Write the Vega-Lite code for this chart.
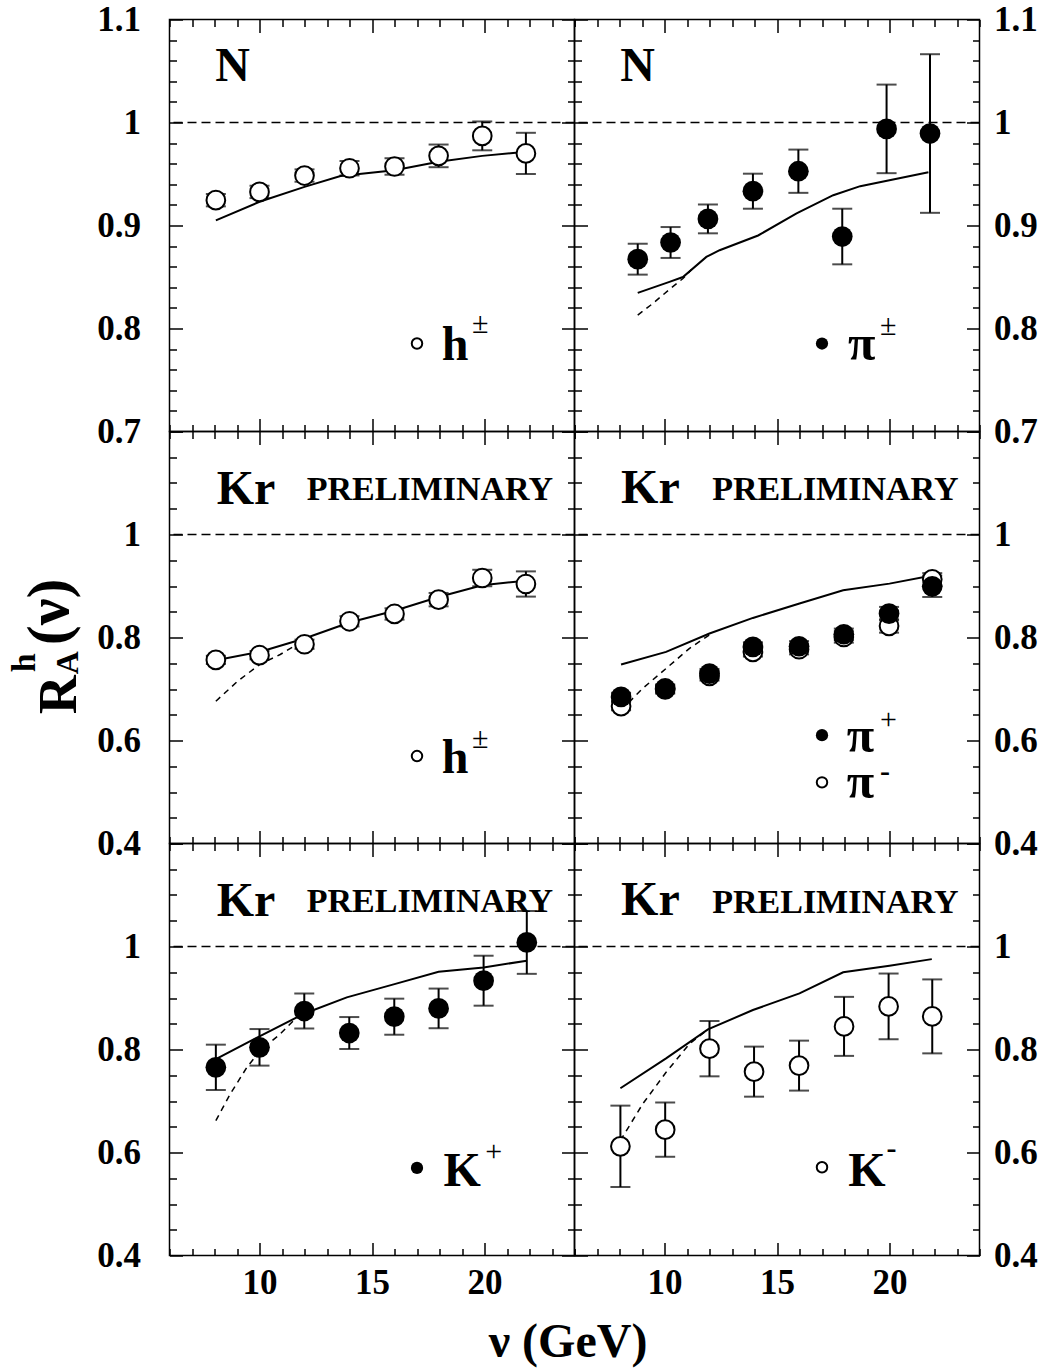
{
"$schema": "https://vega.github.io/schema/vega-lite/v6.json",
"background": "white",
"padding": {"left": 6.5, "top": 1.5, "right": 5, "bottom": 2},
"config": {
  "view": {"stroke": "black", "strokeWidth": 1.5},
  "axis": {"domain": false, "grid": false, "tickColor": "black", "tickWidth": 1.5, "labelFont": "Liberation Serif", "labelFontWeight": "bold", "labelFontSize": 35, "labelColor": "black", "labelFlush": false, "labelOverlap": false, "labelBound": false},
  "text": {"font": "Liberation Serif", "fontWeight": "bold", "color": "black", "align": "left", "baseline": "alphabetic"},
  "point": {"opacity": 1}
},
"datasets": {
  "pts": [
    {"p":"TL","s":"h","nu":8.06,"R":0.9246,"err":0.006},{"p":"TL","s":"h","nu":10.0,"R":0.9326,"err":0.006},{"p":"TL","s":"h","nu":12.0,"R":0.9485,"err":0.006},{"p":"TL","s":"h","nu":14.0,"R":0.9556,"err":0.007},{"p":"TL","s":"h","nu":16.0,"R":0.9573,"err":0.008},{"p":"TL","s":"h","nu":17.96,"R":0.9676,"err":0.011},{"p":"TL","s":"h","nu":19.9,"R":0.987,"err":0.014},{"p":"TL","s":"h","nu":21.84,"R":0.970,"err":0.020},
    {"p":"TR","s":"pi","nu":8.81,"R":0.8673,"err":0.015},{"p":"TR","s":"pi","nu":10.27,"R":0.8835,"err":0.015},{"p":"TR","s":"pi","nu":11.93,"R":0.9064,"err":0.014},{"p":"TR","s":"pi","nu":13.93,"R":0.9333,"err":0.017},{"p":"TR","s":"pi","nu":15.95,"R":0.9527,"err":0.021},{"p":"TR","s":"pi","nu":17.9,"R":0.8893,"err":0.027},{"p":"TR","s":"pi","nu":19.87,"R":0.9938,"err":0.043},{"p":"TR","s":"pi","nu":21.8,"R":0.9893,"err":0.077},
    {"p":"ML","s":"h","nu":8.06,"R":0.7565,"err":0.008},{"p":"ML","s":"h","nu":10.0,"R":0.7656,"err":0.008},{"p":"ML","s":"h","nu":12.0,"R":0.7869,"err":0.009},{"p":"ML","s":"h","nu":14.0,"R":0.8315,"err":0.01},{"p":"ML","s":"h","nu":16.0,"R":0.8457,"err":0.011},{"p":"ML","s":"h","nu":17.96,"R":0.8735,"err":0.013},{"p":"ML","s":"h","nu":19.9,"R":0.9155,"err":0.016},{"p":"ML","s":"h","nu":21.84,"R":0.9039,"err":0.0245},
    {"p":"MR","s":"pim","nu":8.07,"R":0.6667,"err":0.008},{"p":"MR","s":"pim","nu":10.03,"R":0.699,"err":0.008},{"p":"MR","s":"pim","nu":12.0,"R":0.7254,"err":0.009},{"p":"MR","s":"pim","nu":13.93,"R":0.772,"err":0.009},{"p":"MR","s":"pim","nu":15.98,"R":0.7772,"err":0.01},{"p":"MR","s":"pim","nu":17.97,"R":0.801,"err":0.011},{"p":"MR","s":"pim","nu":19.98,"R":0.8224,"err":0.013},{"p":"MR","s":"pim","nu":21.9,"R":0.913,"err":0.012},
    {"p":"MR","s":"pip","nu":8.07,"R":0.6847,"err":0.008},{"p":"MR","s":"pip","nu":10.03,"R":0.701,"err":0.008},{"p":"MR","s":"pip","nu":12.0,"R":0.730,"err":0.009},{"p":"MR","s":"pip","nu":13.93,"R":0.7817,"err":0.009},{"p":"MR","s":"pip","nu":15.98,"R":0.783,"err":0.01},{"p":"MR","s":"pip","nu":17.97,"R":0.8063,"err":0.011},{"p":"MR","s":"pip","nu":19.98,"R":0.8464,"err":0.013},{"p":"MR","s":"pip","nu":21.9,"R":0.8994,"err":0.0207},
    {"p":"BL","s":"Kp","nu":8.06,"R":0.7654,"err":0.044},{"p":"BL","s":"Kp","nu":10.0,"R":0.8042,"err":0.0355},{"p":"BL","s":"Kp","nu":11.99,"R":0.8747,"err":0.034},{"p":"BL","s":"Kp","nu":13.99,"R":0.832,"err":0.031},{"p":"BL","s":"Kp","nu":15.99,"R":0.8637,"err":0.035},{"p":"BL","s":"Kp","nu":17.96,"R":0.8798,"err":0.0385},{"p":"BL","s":"Kp","nu":19.96,"R":0.9336,"err":0.0485},{"p":"BL","s":"Kp","nu":21.88,"R":1.0079,"err":0.061},
    {"p":"BR","s":"Km","nu":8.04,"R":0.612,"err":0.079},{"p":"BR","s":"Km","nu":10.03,"R":0.6444,"err":0.0527},{"p":"BR","s":"Km","nu":12.0,"R":0.8016,"err":0.0537},{"p":"BR","s":"Km","nu":13.98,"R":0.757,"err":0.0486},{"p":"BR","s":"Km","nu":15.98,"R":0.7687,"err":0.0485},{"p":"BR","s":"Km","nu":17.98,"R":0.8449,"err":0.0573},{"p":"BR","s":"Km","nu":19.96,"R":0.8837,"err":0.0638},{"p":"BR","s":"Km","nu":21.9,"R":0.8643,"err":0.0718}
  ],
  "theory": [
    {"p":"TL","k":"solid","nu":8.06,"R":0.905},{"p":"TL","k":"solid","nu":10.0,"R":0.923},{"p":"TL","k":"solid","nu":12.0,"R":0.9375},{"p":"TL","k":"solid","nu":13.6,"R":0.948},{"p":"TL","k":"solid","nu":16.0,"R":0.9537},{"p":"TL","k":"solid","nu":17.96,"R":0.9618},{"p":"TL","k":"solid","nu":19.9,"R":0.9676},{"p":"TL","k":"solid","nu":21.84,"R":0.9715},
    {"p":"TR","k":"solid","nu":8.81,"R":0.8346},{"p":"TR","k":"solid","nu":10.22,"R":0.8453},{"p":"TR","k":"solid","nu":10.82,"R":0.850},{"p":"TR","k":"solid","nu":11.86,"R":0.8695},{"p":"TR","k":"solid","nu":12.45,"R":0.876},{"p":"TR","k":"solid","nu":14.16,"R":0.8903},{"p":"TR","k":"solid","nu":15.87,"R":0.9117},{"p":"TR","k":"solid","nu":17.5,"R":0.9294},{"p":"TR","k":"solid","nu":18.7,"R":0.9382},{"p":"TR","k":"solid","nu":21.73,"R":0.9518},
    {"p":"TR","k":"dash","nu":8.81,"R":0.813},{"p":"TR","k":"dash","nu":9.48,"R":0.8243},{"p":"TR","k":"dash","nu":10.22,"R":0.838},{"p":"TR","k":"dash","nu":10.82,"R":0.8485},{"p":"TR","k":"dash","nu":11.19,"R":0.857},
    {"p":"ML","k":"solid","nu":8.06,"R":0.756},{"p":"ML","k":"solid","nu":10.0,"R":0.772},{"p":"ML","k":"solid","nu":12.0,"R":0.798},{"p":"ML","k":"solid","nu":14.0,"R":0.829},{"p":"ML","k":"solid","nu":16.0,"R":0.852},{"p":"ML","k":"solid","nu":17.96,"R":0.8786},{"p":"ML","k":"solid","nu":19.9,"R":0.9013},{"p":"ML","k":"solid","nu":21.84,"R":0.9104},
    {"p":"ML","k":"dash","nu":8.06,"R":0.6763},{"p":"ML","k":"dash","nu":9.0,"R":0.714},{"p":"ML","k":"dash","nu":10.0,"R":0.7475},{"p":"ML","k":"dash","nu":10.92,"R":0.767},{"p":"ML","k":"dash","nu":12.1,"R":0.798},
    {"p":"MR","k":"solid","nu":8.07,"R":0.7475},{"p":"MR","k":"solid","nu":10.07,"R":0.772},{"p":"MR","k":"solid","nu":12.0,"R":0.8077},{"p":"MR","k":"solid","nu":13.93,"R":0.838},{"p":"MR","k":"solid","nu":16.0,"R":0.866},{"p":"MR","k":"solid","nu":17.94,"R":0.8916},{"p":"MR","k":"solid","nu":20.0,"R":0.9046},{"p":"MR","k":"solid","nu":21.95,"R":0.9207},
    {"p":"MR","k":"dash","nu":8.07,"R":0.6589},{"p":"MR","k":"dash","nu":9.03,"R":0.701},{"p":"MR","k":"dash","nu":10.07,"R":0.7398},{"p":"MR","k":"dash","nu":11.1,"R":0.7785},{"p":"MR","k":"dash","nu":12.15,"R":0.8096},
    {"p":"BL","k":"solid","nu":8.06,"R":0.7815},{"p":"BL","k":"solid","nu":10.0,"R":0.8255},{"p":"BL","k":"solid","nu":12.0,"R":0.870},{"p":"BL","k":"solid","nu":13.88,"R":0.9012},{"p":"BL","k":"solid","nu":16.0,"R":0.927},{"p":"BL","k":"solid","nu":17.96,"R":0.951},{"p":"BL","k":"solid","nu":19.96,"R":0.9594},{"p":"BL","k":"solid","nu":21.88,"R":0.9724},
    {"p":"BL","k":"dash","nu":8.06,"R":0.662},{"p":"BL","k":"dash","nu":8.7,"R":0.7136},{"p":"BL","k":"dash","nu":9.44,"R":0.7654},{"p":"BL","k":"dash","nu":10.03,"R":0.7978},{"p":"BL","k":"dash","nu":10.92,"R":0.830},{"p":"BL","k":"dash","nu":11.8,"R":0.8688},
    {"p":"BR","k":"solid","nu":8.04,"R":0.7247},{"p":"BR","k":"solid","nu":10.07,"R":0.7829},{"p":"BR","k":"solid","nu":11.93,"R":0.8391},{"p":"BR","k":"solid","nu":13.93,"R":0.8766},{"p":"BR","k":"solid","nu":16.0,"R":0.909},{"p":"BR","k":"solid","nu":17.94,"R":0.950},{"p":"BR","k":"solid","nu":20.0,"R":0.9627},{"p":"BR","k":"solid","nu":21.88,"R":0.9755},
    {"p":"BR","k":"dash","nu":8.04,"R":0.6232},{"p":"BR","k":"dash","nu":9.03,"R":0.6942},{"p":"BR","k":"dash","nu":10.07,"R":0.7557},{"p":"BR","k":"dash","nu":11.1,"R":0.8106},{"p":"BR","k":"dash","nu":11.93,"R":0.839}
  ]
},
"columns": 2,
"spacing": 0,
"bounds": "flush",
"concat": [
 {"width": 405, "height": 412, "resolve": {"axis": {"x": "independent", "y": "independent"}},
  "layer": [
   {"data": {"values": [{}]}, "mark": {"type": "rule", "color": "black", "strokeWidth": 1.5, "strokeDash": [9, 5]}, "encoding": {"y": {"datum": 1, "type": "quantitative", "axis": null}}},
   {"data": {"name": "theory"}, "transform": [{"filter": "datum.p === 'TL' && datum.k === 'solid'"}], "mark": {"type": "line", "color": "black", "strokeWidth": 2},
    "encoding": {"x": {"field": "nu", "type": "quantitative", "scale": {"domain": [6, 24], "nice": false, "zero": false}, "axis": {"orient": "top", "values": [6,7,8,9,10,11,12,13,14,15,16,17,18,19,20,21,22,23,24], "tickSize": {"condition": {"test": "datum.value % 5 === 0", "value": -13}, "value": -7}, "labels": false, "title": null}},
     "y": {"field": "R", "type": "quantitative", "scale": {"domain": [0.7, 1.1], "nice": false, "zero": false}, "axis": {"orient": "right", "values": [0.7,0.72,0.74,0.76,0.78,0.8,0.82,0.84,0.86,0.88,0.9,0.92,0.94,0.96,0.98,1,1.02,1.04,1.06,1.08,1.1], "tickSize": {"condition": {"test": "abs(datum.value*10 - round(datum.value*10)) < 0.001", "value": -13}, "value": -7}, "labels": false, "title": null}}}},
   {"data": {"name": "pts"}, "transform": [{"filter": "datum.p === 'TL'"}], "mark": {"type": "errorbar", "color": "black", "ticks": {"size": 20, "thickness": 2, "color": "black"}, "rule": {"strokeWidth": 2, "color": "black"}},
    "encoding": {"x": {"field": "nu", "type": "quantitative", "axis": null}, "y": {"field": "R", "type": "quantitative", "axis": null}, "yError": {"field": "err"}}},
   {"data": {"name": "pts"}, "transform": [{"filter": "datum.p === 'TL'"}], "mark": {"type": "point", "shape": "circle", "filled": true, "fill": "white", "stroke": "black", "strokeWidth": 2, "size": 350, "opacity": 1},
    "encoding": {"x": {"field": "nu", "type": "quantitative", "scale": {"domain": [6, 24], "nice": false, "zero": false}, "axis": {"orient": "bottom", "values": [6,7,8,9,10,11,12,13,14,15,16,17,18,19,20,21,22,23,24], "tickSize": {"condition": {"test": "datum.value % 5 === 0", "value": -13}, "value": -7}, "labels": false, "title": null}},
     "y": {"field": "R", "type": "quantitative", "scale": {"domain": [0.7, 1.1], "nice": false, "zero": false}, "axis": {"orient": "left", "values": [0.7,0.72,0.74,0.76,0.78,0.8,0.82,0.84,0.86,0.88,0.9,0.92,0.94,0.96,0.98,1,1.02,1.04,1.06,1.08,1.1], "tickSize": {"condition": {"test": "abs(datum.value*10 - round(datum.value*10)) < 0.001", "value": -13}, "value": -7}, "labelExpr": "abs(datum.value*10 - round(datum.value*10)) < 0.001 ? format(datum.value, '.2~f') : ''", "labelPadding": 42, "title": null}}}},
   {"data": {"values": [{}]}, "mark": {"type": "point", "shape": "circle", "filled": true, "fill": "white", "stroke": "black", "strokeWidth": 2, "size": 110, "opacity": 1}, "encoding": {"x": {"datum": 17.0, "type": "quantitative", "axis": null}, "y": {"datum": 0.7854, "type": "quantitative", "axis": null}}},
   {"data": {"values": [{}]}, "mark": {"type": "text", "text": "N", "fontSize": 48}, "encoding": {"x": {"datum": 8.03, "type": "quantitative", "axis": null}, "y": {"datum": 1.0404, "type": "quantitative", "axis": null}}},
   {"data": {"values": [{}]}, "mark": {"type": "text", "text": "h", "fontSize": 48}, "encoding": {"x": {"datum": 18.1, "type": "quantitative", "axis": null}, "y": {"datum": 0.7692, "type": "quantitative", "axis": null}}},
   {"data": {"values": [{}]}, "mark": {"type": "text", "text": "±", "fontSize": 30, "fontWeight": "normal"}, "encoding": {"x": {"datum": 19.44, "type": "quantitative", "axis": null}, "y": {"datum": 0.7954, "type": "quantitative", "axis": null}}}
  ]},
 {"width": 405, "height": 412, "resolve": {"axis": {"x": "independent", "y": "independent"}},
  "layer": [
   {"data": {"values": [{}]}, "mark": {"type": "rule", "color": "black", "strokeWidth": 1.5, "strokeDash": [9, 5]}, "encoding": {"y": {"datum": 1, "type": "quantitative", "axis": null}}},
   {"data": {"name": "theory"}, "transform": [{"filter": "datum.p === 'TR' && datum.k === 'solid'"}], "mark": {"type": "line", "color": "black", "strokeWidth": 2},
    "encoding": {"x": {"field": "nu", "type": "quantitative", "scale": {"domain": [6, 24], "nice": false, "zero": false}, "axis": {"orient": "top", "values": [6,7,8,9,10,11,12,13,14,15,16,17,18,19,20,21,22,23,24], "tickSize": {"condition": {"test": "datum.value % 5 === 0", "value": -13}, "value": -7}, "labels": false, "title": null}},
     "y": {"field": "R", "type": "quantitative", "scale": {"domain": [0.7, 1.1], "nice": false, "zero": false}, "axis": {"orient": "right", "values": [0.7,0.72,0.74,0.76,0.78,0.8,0.82,0.84,0.86,0.88,0.9,0.92,0.94,0.96,0.98,1,1.02,1.04,1.06,1.08,1.1], "tickSize": {"condition": {"test": "abs(datum.value*10 - round(datum.value*10)) < 0.001", "value": -13}, "value": -7}, "labelExpr": "abs(datum.value*10 - round(datum.value*10)) < 0.001 ? format(datum.value, '.2~f') : ''", "labelPadding": 27, "title": null}}}},
   {"data": {"name": "theory"}, "transform": [{"filter": "datum.p === 'TR' && datum.k === 'dash'"}], "mark": {"type": "line", "color": "black", "strokeWidth": 1.5, "strokeDash": [6, 5]},
    "encoding": {"x": {"field": "nu", "type": "quantitative", "axis": null}, "y": {"field": "R", "type": "quantitative", "axis": null}}},
   {"data": {"name": "pts"}, "transform": [{"filter": "datum.p === 'TR'"}], "mark": {"type": "errorbar", "color": "black", "ticks": {"size": 20, "thickness": 2, "color": "black"}, "rule": {"strokeWidth": 2, "color": "black"}},
    "encoding": {"x": {"field": "nu", "type": "quantitative", "axis": null}, "y": {"field": "R", "type": "quantitative", "axis": null}, "yError": {"field": "err"}}},
   {"data": {"name": "pts"}, "transform": [{"filter": "datum.p === 'TR'"}], "mark": {"type": "point", "shape": "circle", "filled": true, "fill": "black", "stroke": "black", "strokeWidth": 0, "size": 430, "opacity": 1},
    "encoding": {"x": {"field": "nu", "type": "quantitative", "scale": {"domain": [6, 24], "nice": false, "zero": false}, "axis": {"orient": "bottom", "values": [6,7,8,9,10,11,12,13,14,15,16,17,18,19,20,21,22,23,24], "tickSize": {"condition": {"test": "datum.value % 5 === 0", "value": -13}, "value": -7}, "labels": false, "title": null}},
     "y": {"field": "R", "type": "quantitative", "scale": {"domain": [0.7, 1.1], "nice": false, "zero": false}, "axis": {"orient": "left", "values": [0.7,0.72,0.74,0.76,0.78,0.8,0.82,0.84,0.86,0.88,0.9,0.92,0.94,0.96,0.98,1,1.02,1.04,1.06,1.08,1.1], "tickSize": {"condition": {"test": "abs(datum.value*10 - round(datum.value*10)) < 0.001", "value": -13}, "value": -7}, "labels": false, "title": null}}}},
   {"data": {"values": [{}]}, "mark": {"type": "point", "shape": "circle", "filled": true, "fill": "black", "strokeWidth": 0, "size": 150, "opacity": 1}, "encoding": {"x": {"datum": 17.0, "type": "quantitative", "axis": null}, "y": {"datum": 0.7854, "type": "quantitative", "axis": null}}},
   {"data": {"values": [{}]}, "mark": {"type": "text", "text": "N", "fontSize": 48}, "encoding": {"x": {"datum": 8.03, "type": "quantitative", "axis": null}, "y": {"datum": 1.0404, "type": "quantitative", "axis": null}}},
   {"data": {"values": [{}]}, "mark": {"type": "text", "text": "π", "fontSize": 50}, "encoding": {"x": {"datum": 18.16, "type": "quantitative", "axis": null}, "y": {"datum": 0.7692, "type": "quantitative", "axis": null}}},
   {"data": {"values": [{}]}, "mark": {"type": "text", "text": "±", "fontSize": 30, "fontWeight": "normal"}, "encoding": {"x": {"datum": 19.58, "type": "quantitative", "axis": null}, "y": {"datum": 0.7935, "type": "quantitative", "axis": null}}}
  ]},
 {"width": 405, "height": 412, "resolve": {"axis": {"x": "independent", "y": "independent"}},
  "layer": [
   {"data": {"values": [{}]}, "mark": {"type": "rule", "color": "black", "strokeWidth": 1.5, "strokeDash": [9, 5]}, "encoding": {"y": {"datum": 1, "type": "quantitative", "axis": null}}},
   {"data": {"name": "theory"}, "transform": [{"filter": "datum.p === 'ML' && datum.k === 'solid'"}], "mark": {"type": "line", "color": "black", "strokeWidth": 2},
    "encoding": {"x": {"field": "nu", "type": "quantitative", "scale": {"domain": [6, 24], "nice": false, "zero": false}, "axis": {"orient": "top", "values": [6,7,8,9,10,11,12,13,14,15,16,17,18,19,20,21,22,23,24], "tickSize": {"condition": {"test": "datum.value % 5 === 0", "value": -13}, "value": -7}, "labels": false, "title": null}},
     "y": {"field": "R", "type": "quantitative", "scale": {"domain": [0.4, 1.2], "nice": false, "zero": false}, "axis": {"orient": "right", "values": [0.4,0.45,0.5,0.55,0.6,0.65,0.7,0.75,0.8,0.85,0.9,0.95,1,1.05,1.1,1.15,1.2], "tickSize": {"condition": {"test": "abs(datum.value*5 - round(datum.value*5)) < 0.001", "value": -13}, "value": -7}, "labels": false, "title": null}}}},
   {"data": {"name": "theory"}, "transform": [{"filter": "datum.p === 'ML' && datum.k === 'dash'"}], "mark": {"type": "line", "color": "black", "strokeWidth": 1.5, "strokeDash": [6, 5]},
    "encoding": {"x": {"field": "nu", "type": "quantitative", "axis": null}, "y": {"field": "R", "type": "quantitative", "axis": null}}},
   {"data": {"name": "pts"}, "transform": [{"filter": "datum.p === 'ML'"}], "mark": {"type": "errorbar", "color": "black", "ticks": {"size": 20, "thickness": 2, "color": "black"}, "rule": {"strokeWidth": 2, "color": "black"}},
    "encoding": {"x": {"field": "nu", "type": "quantitative", "axis": null}, "y": {"field": "R", "type": "quantitative", "axis": null}, "yError": {"field": "err"}}},
   {"data": {"name": "pts"}, "transform": [{"filter": "datum.p === 'ML'"}], "mark": {"type": "point", "shape": "circle", "filled": true, "fill": "white", "stroke": "black", "strokeWidth": 2, "size": 350, "opacity": 1},
    "encoding": {"x": {"field": "nu", "type": "quantitative", "scale": {"domain": [6, 24], "nice": false, "zero": false}, "axis": {"orient": "bottom", "values": [6,7,8,9,10,11,12,13,14,15,16,17,18,19,20,21,22,23,24], "tickSize": {"condition": {"test": "datum.value % 5 === 0", "value": -13}, "value": -7}, "labels": false, "title": null}},
     "y": {"field": "R", "type": "quantitative", "scale": {"domain": [0.4, 1.2], "nice": false, "zero": false}, "axis": {"orient": "left", "values": [0.4,0.45,0.5,0.55,0.6,0.65,0.7,0.75,0.8,0.85,0.9,0.95,1,1.05,1.1,1.15,1.2], "tickSize": {"condition": {"test": "abs(datum.value*5 - round(datum.value*5)) < 0.001", "value": -13}, "value": -7}, "labelExpr": "abs(datum.value*5 - round(datum.value*5)) < 0.001 && datum.value < 1.1 ? format(datum.value, '.2~f') : ''", "labelPadding": 42, "title": null}}}},
   {"data": {"values": [{}]}, "mark": {"type": "point", "shape": "circle", "filled": true, "fill": "white", "stroke": "black", "strokeWidth": 2, "size": 110, "opacity": 1}, "encoding": {"x": {"datum": 17.0, "type": "quantitative", "axis": null}, "y": {"datum": 0.5697, "type": "quantitative", "axis": null}}},
   {"data": {"values": [{}]}, "mark": {"type": "text", "text": "Kr", "fontSize": 48}, "encoding": {"x": {"datum": 8.1, "type": "quantitative", "axis": null}, "y": {"datum": 1.0598, "type": "quantitative", "axis": null}}},
   {"data": {"values": [{}]}, "mark": {"type": "text", "text": "PRELIMINARY", "fontSize": 34}, "encoding": {"x": {"datum": 12.1, "type": "quantitative", "axis": null}, "y": {"datum": 1.0662, "type": "quantitative", "axis": null}}},
   {"data": {"values": [{}]}, "mark": {"type": "text", "text": "h", "fontSize": 48}, "encoding": {"x": {"datum": 18.1, "type": "quantitative", "axis": null}, "y": {"datum": 0.5361, "type": "quantitative", "axis": null}}},
   {"data": {"values": [{}]}, "mark": {"type": "text", "text": "±", "fontSize": 30, "fontWeight": "normal"}, "encoding": {"x": {"datum": 19.44, "type": "quantitative", "axis": null}, "y": {"datum": 0.5858, "type": "quantitative", "axis": null}}},
   {"data": {"values": [{}]}, "mark": {"type": "text", "text": "R", "fontSize": 54, "angle": 270, "clip": false}, "encoding": {"x": {"datum": 1.853, "type": "quantitative", "axis": null}, "y": {"datum": 0.6511, "type": "quantitative", "axis": null}}},
   {"data": {"values": [{}]}, "mark": {"type": "text", "text": "A", "fontSize": 32, "angle": 270, "clip": false}, "encoding": {"x": {"datum": 1.942, "type": "quantitative", "axis": null}, "y": {"datum": 0.7287, "type": "quantitative", "axis": null}}},
   {"data": {"values": [{}]}, "mark": {"type": "text", "text": "h", "fontSize": 34, "angle": 270, "clip": false}, "encoding": {"x": {"datum": 0.031, "type": "quantitative", "axis": null}, "y": {"datum": 0.7326, "type": "quantitative", "axis": null}}},
   {"data": {"values": [{}]}, "mark": {"type": "text", "text": "(ν)", "fontSize": 60, "angle": 270, "clip": false}, "encoding": {"x": {"datum": 1.498, "type": "quantitative", "axis": null}, "y": {"datum": 0.785, "type": "quantitative", "axis": null}}}
  ]},
 {"width": 405, "height": 412, "resolve": {"axis": {"x": "independent", "y": "independent"}},
  "layer": [
   {"data": {"values": [{}]}, "mark": {"type": "rule", "color": "black", "strokeWidth": 1.5, "strokeDash": [9, 5]}, "encoding": {"y": {"datum": 1, "type": "quantitative", "axis": null}}},
   {"data": {"name": "theory"}, "transform": [{"filter": "datum.p === 'MR' && datum.k === 'solid'"}], "mark": {"type": "line", "color": "black", "strokeWidth": 2},
    "encoding": {"x": {"field": "nu", "type": "quantitative", "scale": {"domain": [6, 24], "nice": false, "zero": false}, "axis": {"orient": "top", "values": [6,7,8,9,10,11,12,13,14,15,16,17,18,19,20,21,22,23,24], "tickSize": {"condition": {"test": "datum.value % 5 === 0", "value": -13}, "value": -7}, "labels": false, "title": null}},
     "y": {"field": "R", "type": "quantitative", "scale": {"domain": [0.4, 1.2], "nice": false, "zero": false}, "axis": {"orient": "right", "values": [0.4,0.45,0.5,0.55,0.6,0.65,0.7,0.75,0.8,0.85,0.9,0.95,1,1.05,1.1,1.15,1.2], "tickSize": {"condition": {"test": "abs(datum.value*5 - round(datum.value*5)) < 0.001", "value": -13}, "value": -7}, "labelExpr": "abs(datum.value*5 - round(datum.value*5)) < 0.001 && datum.value < 1.1 ? format(datum.value, '.2~f') : ''", "labelPadding": 27, "title": null}}}},
   {"data": {"name": "theory"}, "transform": [{"filter": "datum.p === 'MR' && datum.k === 'dash'"}], "mark": {"type": "line", "color": "black", "strokeWidth": 1.5, "strokeDash": [6, 5]},
    "encoding": {"x": {"field": "nu", "type": "quantitative", "axis": null}, "y": {"field": "R", "type": "quantitative", "axis": null}}},
   {"data": {"name": "pts"}, "transform": [{"filter": "datum.p === 'MR'"}], "mark": {"type": "errorbar", "color": "black", "ticks": {"size": 20, "thickness": 2, "color": "black"}, "rule": {"strokeWidth": 2, "color": "black"}},
    "encoding": {"x": {"field": "nu", "type": "quantitative", "axis": null}, "y": {"field": "R", "type": "quantitative", "axis": null}, "yError": {"field": "err"}}},
   {"data": {"name": "pts"}, "transform": [{"filter": "datum.p === 'MR' && datum.s === 'pim'"}], "mark": {"type": "point", "shape": "circle", "filled": true, "fill": "white", "stroke": "black", "strokeWidth": 2, "size": 350, "opacity": 1},
    "encoding": {"x": {"field": "nu", "type": "quantitative", "axis": null}, "y": {"field": "R", "type": "quantitative", "axis": null}}},
   {"data": {"name": "pts"}, "transform": [{"filter": "datum.p === 'MR' && datum.s === 'pip'"}], "mark": {"type": "point", "shape": "circle", "filled": true, "fill": "black", "stroke": "black", "strokeWidth": 0, "size": 430, "opacity": 1},
    "encoding": {"x": {"field": "nu", "type": "quantitative", "scale": {"domain": [6, 24], "nice": false, "zero": false}, "axis": {"orient": "bottom", "values": [6,7,8,9,10,11,12,13,14,15,16,17,18,19,20,21,22,23,24], "tickSize": {"condition": {"test": "datum.value % 5 === 0", "value": -13}, "value": -7}, "labels": false, "title": null}},
     "y": {"field": "R", "type": "quantitative", "scale": {"domain": [0.4, 1.2], "nice": false, "zero": false}, "axis": {"orient": "left", "values": [0.4,0.45,0.5,0.55,0.6,0.65,0.7,0.75,0.8,0.85,0.9,0.95,1,1.05,1.1,1.15,1.2], "tickSize": {"condition": {"test": "abs(datum.value*5 - round(datum.value*5)) < 0.001", "value": -13}, "value": -7}, "labels": false, "title": null}}}},
   {"data": {"values": [{}]}, "mark": {"type": "point", "shape": "circle", "filled": true, "fill": "black", "strokeWidth": 0, "size": 150, "opacity": 1}, "encoding": {"x": {"datum": 17.0, "type": "quantitative", "axis": null}, "y": {"datum": 0.6104, "type": "quantitative", "axis": null}}},
   {"data": {"values": [{}]}, "mark": {"type": "point", "shape": "circle", "filled": true, "fill": "white", "stroke": "black", "strokeWidth": 2, "size": 110, "opacity": 1}, "encoding": {"x": {"datum": 17.0, "type": "quantitative", "axis": null}, "y": {"datum": 0.5187, "type": "quantitative", "axis": null}}},
   {"data": {"values": [{}]}, "mark": {"type": "text", "text": "Kr", "fontSize": 48}, "encoding": {"x": {"datum": 8.07, "type": "quantitative", "axis": null}, "y": {"datum": 1.0617, "type": "quantitative", "axis": null}}},
   {"data": {"values": [{}]}, "mark": {"type": "text", "text": "PRELIMINARY", "fontSize": 34}, "encoding": {"x": {"datum": 12.12, "type": "quantitative", "axis": null}, "y": {"datum": 1.0662, "type": "quantitative", "axis": null}}},
   {"data": {"values": [{}]}, "mark": {"type": "text", "text": "π", "fontSize": 50}, "encoding": {"x": {"datum": 18.1, "type": "quantitative", "axis": null}, "y": {"datum": 0.578, "type": "quantitative", "axis": null}}},
   {"data": {"values": [{}]}, "mark": {"type": "text", "text": "+", "fontSize": 30, "fontWeight": "normal"}, "encoding": {"x": {"datum": 19.58, "type": "quantitative", "axis": null}, "y": {"datum": 0.623, "type": "quantitative", "axis": null}}},
   {"data": {"values": [{}]}, "mark": {"type": "text", "text": "π", "fontSize": 50}, "encoding": {"x": {"datum": 18.1, "type": "quantitative", "axis": null}, "y": {"datum": 0.4876, "type": "quantitative", "axis": null}}},
   {"data": {"values": [{}]}, "mark": {"type": "text", "text": "-", "fontSize": 30}, "encoding": {"x": {"datum": 19.58, "type": "quantitative", "axis": null}, "y": {"datum": 0.521, "type": "quantitative", "axis": null}}}
  ]},
 {"width": 405, "height": 412, "resolve": {"axis": {"x": "independent", "y": "independent"}},
  "layer": [
   {"data": {"values": [{}]}, "mark": {"type": "rule", "color": "black", "strokeWidth": 1.5, "strokeDash": [9, 5]}, "encoding": {"y": {"datum": 1, "type": "quantitative", "axis": null}}},
   {"data": {"name": "theory"}, "transform": [{"filter": "datum.p === 'BL' && datum.k === 'solid'"}], "mark": {"type": "line", "color": "black", "strokeWidth": 2},
    "encoding": {"x": {"field": "nu", "type": "quantitative", "scale": {"domain": [6, 24], "nice": false, "zero": false}, "axis": {"orient": "top", "values": [6,7,8,9,10,11,12,13,14,15,16,17,18,19,20,21,22,23,24], "tickSize": {"condition": {"test": "datum.value % 5 === 0", "value": -13}, "value": -7}, "labels": false, "title": null}},
     "y": {"field": "R", "type": "quantitative", "scale": {"domain": [0.4, 1.2], "nice": false, "zero": false}, "axis": {"orient": "right", "values": [0.4,0.45,0.5,0.55,0.6,0.65,0.7,0.75,0.8,0.85,0.9,0.95,1,1.05,1.1,1.15,1.2], "tickSize": {"condition": {"test": "abs(datum.value*5 - round(datum.value*5)) < 0.001", "value": -13}, "value": -7}, "labels": false, "title": null}}}},
   {"data": {"name": "theory"}, "transform": [{"filter": "datum.p === 'BL' && datum.k === 'dash'"}], "mark": {"type": "line", "color": "black", "strokeWidth": 1.5, "strokeDash": [6, 5]},
    "encoding": {"x": {"field": "nu", "type": "quantitative", "axis": null}, "y": {"field": "R", "type": "quantitative", "axis": null}}},
   {"data": {"name": "pts"}, "transform": [{"filter": "datum.p === 'BL'"}], "mark": {"type": "errorbar", "color": "black", "ticks": {"size": 20, "thickness": 2, "color": "black"}, "rule": {"strokeWidth": 2, "color": "black"}},
    "encoding": {"x": {"field": "nu", "type": "quantitative", "axis": null}, "y": {"field": "R", "type": "quantitative", "axis": null}, "yError": {"field": "err"}}},
   {"data": {"name": "pts"}, "transform": [{"filter": "datum.p === 'BL'"}], "mark": {"type": "point", "shape": "circle", "filled": true, "fill": "black", "stroke": "black", "strokeWidth": 0, "size": 430, "opacity": 1},
    "encoding": {"x": {"field": "nu", "type": "quantitative", "scale": {"domain": [6, 24], "nice": false, "zero": false}, "axis": {"orient": "bottom", "values": [6,7,8,9,10,11,12,13,14,15,16,17,18,19,20,21,22,23,24], "tickSize": {"condition": {"test": "datum.value % 5 === 0", "value": -13}, "value": -7}, "labelExpr": "datum.value % 5 === 0 ? datum.label : ''", "labelPadding": 23, "title": "ν (GeV)", "titleFont": "Liberation Serif", "titleFontWeight": "bold", "titleFontSize": 48, "titleColor": "black", "titleX": 398, "titleY": 101, "titleAlign": "center", "titleBaseline": "alphabetic", "titleAngle": 0}},
     "y": {"field": "R", "type": "quantitative", "scale": {"domain": [0.4, 1.2], "nice": false, "zero": false}, "axis": {"orient": "left", "values": [0.4,0.45,0.5,0.55,0.6,0.65,0.7,0.75,0.8,0.85,0.9,0.95,1,1.05,1.1,1.15,1.2], "tickSize": {"condition": {"test": "abs(datum.value*5 - round(datum.value*5)) < 0.001", "value": -13}, "value": -7}, "labelExpr": "abs(datum.value*5 - round(datum.value*5)) < 0.001 && datum.value < 1.1 ? format(datum.value, '.2~f') : ''", "labelPadding": 42, "title": null}}}},
   {"data": {"values": [{}]}, "mark": {"type": "point", "shape": "circle", "filled": true, "fill": "black", "strokeWidth": 0, "size": 150, "opacity": 1}, "encoding": {"x": {"datum": 17.0, "type": "quantitative", "axis": null}, "y": {"datum": 0.570, "type": "quantitative", "axis": null}}},
   {"data": {"values": [{}]}, "mark": {"type": "text", "text": "Kr", "fontSize": 48}, "encoding": {"x": {"datum": 8.1, "type": "quantitative", "axis": null}, "y": {"datum": 1.0597, "type": "quantitative", "axis": null}}},
   {"data": {"values": [{}]}, "mark": {"type": "text", "text": "PRELIMINARY", "fontSize": 34}, "encoding": {"x": {"datum": 12.1, "type": "quantitative", "axis": null}, "y": {"datum": 1.0661, "type": "quantitative", "axis": null}}},
   {"data": {"values": [{}]}, "mark": {"type": "text", "text": "K", "fontSize": 48}, "encoding": {"x": {"datum": 18.18, "type": "quantitative", "axis": null}, "y": {"datum": 0.5358, "type": "quantitative", "axis": null}}},
   {"data": {"values": [{}]}, "mark": {"type": "text", "text": "+", "fontSize": 30, "fontWeight": "normal"}, "encoding": {"x": {"datum": 20.03, "type": "quantitative", "axis": null}, "y": {"datum": 0.583, "type": "quantitative", "axis": null}}}
  ]},
 {"width": 405, "height": 412, "resolve": {"axis": {"x": "independent", "y": "independent"}},
  "layer": [
   {"data": {"values": [{}]}, "mark": {"type": "rule", "color": "black", "strokeWidth": 1.5, "strokeDash": [9, 5]}, "encoding": {"y": {"datum": 1, "type": "quantitative", "axis": null}}},
   {"data": {"name": "theory"}, "transform": [{"filter": "datum.p === 'BR' && datum.k === 'solid'"}], "mark": {"type": "line", "color": "black", "strokeWidth": 2},
    "encoding": {"x": {"field": "nu", "type": "quantitative", "scale": {"domain": [6, 24], "nice": false, "zero": false}, "axis": {"orient": "top", "values": [6,7,8,9,10,11,12,13,14,15,16,17,18,19,20,21,22,23,24], "tickSize": {"condition": {"test": "datum.value % 5 === 0", "value": -13}, "value": -7}, "labels": false, "title": null}},
     "y": {"field": "R", "type": "quantitative", "scale": {"domain": [0.4, 1.2], "nice": false, "zero": false}, "axis": {"orient": "right", "values": [0.4,0.45,0.5,0.55,0.6,0.65,0.7,0.75,0.8,0.85,0.9,0.95,1,1.05,1.1,1.15,1.2], "tickSize": {"condition": {"test": "abs(datum.value*5 - round(datum.value*5)) < 0.001", "value": -13}, "value": -7}, "labelExpr": "abs(datum.value*5 - round(datum.value*5)) < 0.001 && datum.value < 1.1 ? format(datum.value, '.2~f') : ''", "labelPadding": 27, "title": null}}}},
   {"data": {"name": "theory"}, "transform": [{"filter": "datum.p === 'BR' && datum.k === 'dash'"}], "mark": {"type": "line", "color": "black", "strokeWidth": 1.5, "strokeDash": [6, 5]},
    "encoding": {"x": {"field": "nu", "type": "quantitative", "axis": null}, "y": {"field": "R", "type": "quantitative", "axis": null}}},
   {"data": {"name": "pts"}, "transform": [{"filter": "datum.p === 'BR'"}], "mark": {"type": "errorbar", "color": "black", "ticks": {"size": 20, "thickness": 2, "color": "black"}, "rule": {"strokeWidth": 2, "color": "black"}},
    "encoding": {"x": {"field": "nu", "type": "quantitative", "axis": null}, "y": {"field": "R", "type": "quantitative", "axis": null}, "yError": {"field": "err"}}},
   {"data": {"name": "pts"}, "transform": [{"filter": "datum.p === 'BR'"}], "mark": {"type": "point", "shape": "circle", "filled": true, "fill": "white", "stroke": "black", "strokeWidth": 2, "size": 350, "opacity": 1},
    "encoding": {"x": {"field": "nu", "type": "quantitative", "scale": {"domain": [6, 24], "nice": false, "zero": false}, "axis": {"orient": "bottom", "values": [6,7,8,9,10,11,12,13,14,15,16,17,18,19,20,21,22,23,24], "tickSize": {"condition": {"test": "datum.value % 5 === 0", "value": -13}, "value": -7}, "labelExpr": "datum.value % 5 === 0 ? datum.label : ''", "labelPadding": 23, "title": null}},
     "y": {"field": "R", "type": "quantitative", "scale": {"domain": [0.4, 1.2], "nice": false, "zero": false}, "axis": {"orient": "left", "values": [0.4,0.45,0.5,0.55,0.6,0.65,0.7,0.75,0.8,0.85,0.9,0.95,1,1.05,1.1,1.15,1.2], "tickSize": {"condition": {"test": "abs(datum.value*5 - round(datum.value*5)) < 0.001", "value": -13}, "value": -7}, "labels": false, "title": null}}}},
   {"data": {"values": [{}]}, "mark": {"type": "point", "shape": "circle", "filled": true, "fill": "white", "stroke": "black", "strokeWidth": 2, "size": 110, "opacity": 1}, "encoding": {"x": {"datum": 17.0, "type": "quantitative", "axis": null}, "y": {"datum": 0.5714, "type": "quantitative", "axis": null}}},
   {"data": {"values": [{}]}, "mark": {"type": "text", "text": "Kr", "fontSize": 48}, "encoding": {"x": {"datum": 8.07, "type": "quantitative", "axis": null}, "y": {"datum": 1.0617, "type": "quantitative", "axis": null}}},
   {"data": {"values": [{}]}, "mark": {"type": "text", "text": "PRELIMINARY", "fontSize": 34}, "encoding": {"x": {"datum": 12.12, "type": "quantitative", "axis": null}, "y": {"datum": 1.066, "type": "quantitative", "axis": null}}},
   {"data": {"values": [{}]}, "mark": {"type": "text", "text": "K", "fontSize": 48}, "encoding": {"x": {"datum": 18.17, "type": "quantitative", "axis": null}, "y": {"datum": 0.5358, "type": "quantitative", "axis": null}}},
   {"data": {"values": [{}]}, "mark": {"type": "text", "text": "-", "fontSize": 30}, "encoding": {"x": {"datum": 19.87, "type": "quantitative", "axis": null}, "y": {"datum": 0.589, "type": "quantitative", "axis": null}}}
  ]}
]
}
